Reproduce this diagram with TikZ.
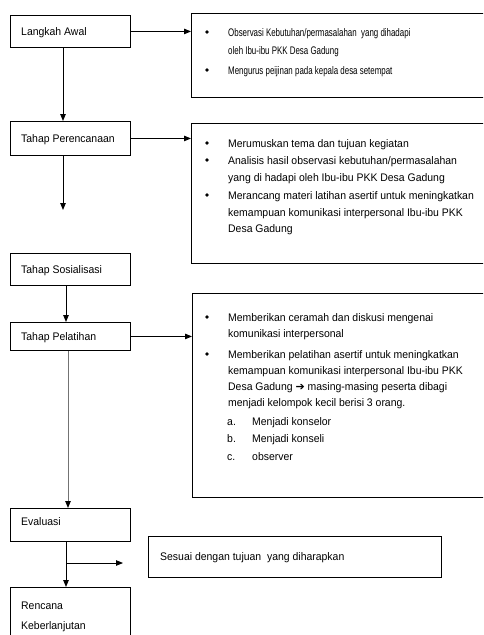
\documentclass[tikz,border=0pt]{standalone}
\usepackage{fontspec}
\setmainfont{Liberation Sans}[FakeStretch=0.95]
\newfontfamily\narrowfont{Liberation Sans}[FakeStretch=0.72]
\newfontfamily\symfont{DejaVu Sans}
\usetikzlibrary{arrows.meta}
\begin{document}
\begin{tikzpicture}[x=1pt,y=-1pt,
  box/.style={draw, line width=0.9pt, rectangle, inner sep=0pt, anchor=north west},
  lbl/.style={anchor=base west, inner sep=0pt, font=\fontsize{11}{16}\selectfont},
  nlbl/.style={lbl, font=\fontsize{11}{16}\narrowfont},
  dot/.style={circle, fill, inner sep=0pt, minimum size=3.6pt},
  arr/.style={draw, line width=0.9pt, -{Triangle[length=7pt,width=5.5pt]}},
  grayarr/.style={draw=black!55, line width=0.9pt, -{Triangle[length=7pt,width=5.5pt,black]}},
]
\clip (0,0) rectangle (483,635);
\fill[white] (0,0) rectangle (483,635);
% left column boxes
\node[box, minimum width=120pt, minimum height=32pt] (awal) at (10,15) {};
\node[box, minimum width=120pt, minimum height=34pt] (perenc) at (10,121) {};
\node[box, minimum width=120pt, minimum height=32pt] (sosial) at (10,253) {};
\node[box, minimum width=120pt, minimum height=28pt] (latih) at (10,322) {};
\node[box, minimum width=120pt, minimum height=33pt] (eval) at (10,508) {};
\node[box, minimum width=120pt, minimum height=60pt] (renc) at (10,587) {};
% right boxes
\node[box, minimum width=300pt, minimum height=84pt] (b1) at (191,13) {};
\node[box, minimum width=300pt, minimum height=140pt] (b2) at (191,123) {};
\node[box, minimum width=300pt, minimum height=204pt] (b3) at (192,293) {};
\node[box, minimum width=293pt, minimum height=41pt] (ses) at (148,536) {};
% left texts
\node[lbl] (awalT) at (21,35) {Langkah Awal};
\node[lbl] (perencT) at (21,142) {Tahap Perencanaan};
\node[lbl] (sosialT) at (21,273) {Tahap Sosialisasi};
\node[lbl] (latihT) at (21,340) {Tahap Pelatihan};
\node[lbl] (evalT) at (21,525) {Evaluasi};
\node[lbl] (rencT1) at (21,609) {Rencana};
\node[lbl] (rencT2) at (21,629) {Keberlanjutan};
\node[lbl] (sesT) at (160,560) {Sesuai dengan tujuan\ \ yang diharapkan};
% box 1
\node[dot] (d11) at (207,32) {};
\node[nlbl] (t11) at (228,36) {Observasi Kebutuhan/permasalahan\ \ yang dihadapi};
\node[nlbl] (t12) at (228,54) {oleh Ibu-ibu PKK Desa Gadung};
\node[dot] (d12) at (207,70) {};
\node[nlbl] (t13) at (228,74) {Mengurus peijinan pada kepala desa setempat};
% box 2
\node[dot] (d21) at (207,143) {};
\node[lbl] (t21) at (228,147) {Merumuskan tema\ dan tujuan kegiatan};
\node[dot] (d22) at (207,160) {};
\node[lbl] (t22) at (228,164) {Analisis\ hasil observasi kebutuhan/permasalahan};
\node[lbl] (t23) at (228,181) {yang di hadapi oleh Ibu-ibu PKK Desa Gadung};
\node[dot] (d23) at (207,195) {};
\node[lbl] (t24) at (228,199) {Merancang materi latihan asertif untuk meningkatkan};
\node[lbl] (t25) at (228,216) {kemampuan komunikasi interpersonal Ibu-ibu PKK};
\node[lbl] (t26) at (228,232) {Desa Gadung};
% box 3
\node[dot] (d31) at (207,317) {};
\node[lbl] (t31) at (228,321) {Memberikan ceramah dan diskusi mengenai};
\node[lbl] (t32) at (228,337) {komunikasi\ interpersonal};
\node[dot] (d32) at (207,354) {};
\node[lbl] (t33) at (228,358) {Memberikan pelatihan asertif untuk meningkatkan};
\node[lbl] (t34) at (228,374) {kemampuan komunikasi interpersonal Ibu-ibu PKK};
\node[lbl] (t35) at (228,390) {Desa Gadung {\symfont ➔} masing-masing\ peserta dibagi};
\node[lbl] (t36) at (228,406) {menjadi kelompok kecil berisi 3 orang.};
\node[lbl] (la) at (227,425) {a.};
\node[lbl] (t37) at (252,425) {Menjadi konselor};
\node[lbl] (lb) at (227,442) {b.};
\node[lbl] (t38) at (252,442) {Menjadi konseli};
\node[lbl] (lc) at (227,460) {c.};
\node[lbl] (t39) at (252,460) {observer};
% connector helper coordinates
\coordinate (x63) at (63,0);
\coordinate (x66) at (66,0);
\coordinate (x68) at (68,0);
\coordinate (pEnd) at (63,210);
\coordinate (br) at (66,563);
\coordinate (brEnd) at (123,563);
% horizontal arrows
\draw[arr] (awal.east) -- (awal.east -| b1.west);
\draw[arr] (perenc.east) -- (perenc.east -| b2.west);
\draw[arr] (latih.east) -- (latih.east -| b3.west);
% vertical arrows
\draw[arr] (awal.south -| x63) -- (perenc.north -| x63);
\draw[arr] (perenc.south -| x63) -- (pEnd);
\draw[arr] (sosial.south -| x66) -- (latih.north -| x66);
\draw[grayarr] (latih.south -| x68) -- (eval.north -| x68);
\draw[arr] (eval.south -| x66) -- (renc.north -| x66);
\draw[arr] (br) -- (brEnd);
\end{tikzpicture}
\end{document}
